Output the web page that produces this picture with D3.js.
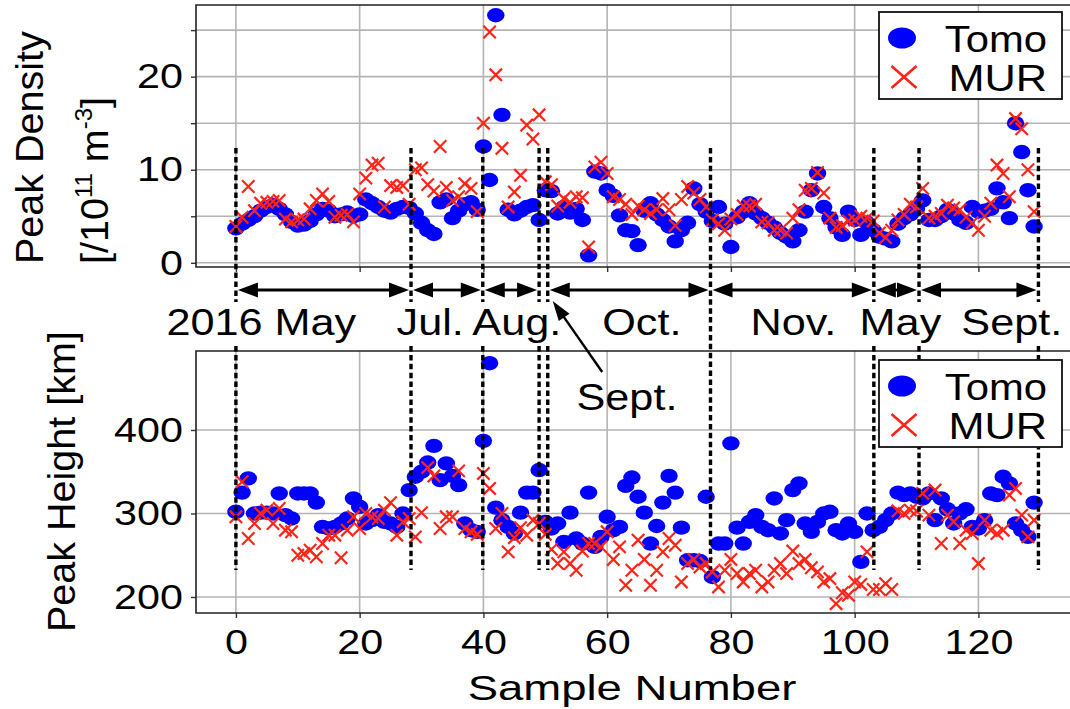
<!DOCTYPE html>
<html>
<head>
<meta charset="utf-8">
<script src="https://cdn.jsdelivr.net/npm/d3@7"></script>
<style>
  body { margin: 0; background: #fff; }
  text { font-family: "Liberation Sans", Arial, sans-serif; fill: #000; }
</style>
</head>
<body>
<script>
var width = 1070,
    height = 709;

// peak density [1e11 m^-3], one value per sample (0..129)
var tomoDensity = [
  3.7, 4.2, 4.6, 5.0, 5.6, 6.0, 6.2, 5.8, 5.2, 4.4,
  4.0, 4.1, 4.5, 5.2, 5.8, 5.6, 5.0, 5.2, 5.4, 5.0,
  5.2, 6.8, 6.4, 6.0, 5.6, 5.4, 5.8, 6.0, 5.9, 5.3,
  4.3, 3.5, 3.1, 6.5, 6.8, 4.8, 5.6, 6.3, 6.5, 5.7,
  12.5, 8.9, 26.6, 15.9, 5.7, 5.2, 5.6, 6.0, 6.2, 4.6,
  7.8, 7.7, 5.3, 6.0, 5.4, 5.8, 4.6, 0.8, 9.8, 9.6,
  7.8, 7.2, 5.1, 3.5, 3.4, 1.9, 5.6, 6.4, 5.2, 4.6,
  3.9, 2.3, 3.5, 4.3, 8.0, 6.3, 5.5, 4.5, 6.0, 4.2,
  1.7, 4.9, 5.5, 6.4, 5.3, 4.8, 4.3, 3.8, 3.2, 2.8,
  2.3, 3.5, 5.5, 7.8, 9.6, 6.0, 4.8, 3.8, 3.0, 5.5,
  4.6, 3.0, 4.3, 3.5, 2.8, 2.6, 2.3, 4.2, 4.8, 5.2,
  5.8, 6.7, 4.6, 4.6, 5.0, 5.7, 5.3, 4.6, 4.3, 6.0,
  5.5, 5.6, 5.8, 8.0, 6.5, 4.8, 15.0, 11.9, 7.8, 3.9
];
var murDensity = [
  3.9, 4.9, 8.2, 5.6, 6.4, 6.5, 6.6, 6.7, 4.7, 4.4,
  4.6, 4.7, 5.8, 6.7, 7.4, 6.6, 4.9, 5.1, 5.2, 4.4,
  7.4, 9.1, 10.5, 10.7, 6.0, 8.3, 8.1, 8.3, 6.3, 10.0,
  10.2, 8.4, 7.7, 12.5, 8.1, 6.7, 7.1, 8.5, 8.0, 5.5,
  15.0, 24.8, 20.2, 12.3, 6.0, 7.6, 9.4, 14.8, 13.3, 15.9,
  8.7, 8.4, 6.1, 6.9, 6.5, 7.1, 7.0, 1.7, 10.3, 10.8,
  9.6, 7.1, 6.8, 6.3, 5.2, 6.1, 5.7, 5.3, 5.7, 6.9,
  5.7, 4.0, 6.8, 8.2, 7.5, 6.8, 6.0, 4.6, 4.2, 3.5,
  4.7, 5.2, 6.1, 6.1, 6.3, 4.4, 4.3, 3.5, 3.5, 3.2,
  4.8, 5.7, 7.8, 8.0, 9.7, 7.5, 4.8, 3.8, 4.0, 4.5,
  4.6, 5.0, 4.8, 4.5, 3.2, 2.7, 3.5, 4.6, 5.2, 6.3,
  6.0, 8.0, 4.8, 5.0, 5.3, 6.2, 5.9, 5.7, 4.9, 4.3,
  3.5, 5.0, 6.4, 10.5, 9.6, 7.1, 15.5, 14.4, 10.0, 5.5
];

// peak height [km]
var tomoHeight = [
  302, 325, 342, 300, 301, 301, 300, 324, 298, 294,
  324, 324, 324, 313, 284, 282, 284, 288, 294, 318,
  308, 288, 292, 298, 290, 288, 284, 300, 328, 344,
  350, 361, 381, 340, 360, 345, 334, 288, 280, 278,
  387, 480, 307, 292, 284, 276, 301, 325, 325, 352,
  290, 282, 288, 266, 301, 270, 264, 325, 260, 272,
  296, 280, 284, 333, 343, 320, 301, 264, 285, 313,
  345, 325, 283, 244, 244, 243, 320, 224, 264, 264,
  384, 283, 264, 290, 298, 284, 280, 318, 276, 292,
  328, 336, 288, 278, 290, 300, 302, 280, 276, 288,
  278, 242, 300, 280, 284, 292, 300, 325, 322, 324,
  320, 318, 324, 292, 318, 305, 288, 300, 305, 284,
  282, 292, 324, 322, 344, 336, 288, 280, 272, 313
];
var murHeight = [
  296, 338, 270, 288, 300, 304, 288, 306, 280, 278,
  250, 252, 256, 248, 264, 274, 274, 247, 280, 296,
  282, 300, 296, 294, 304, 313, 274, 290, 294, 272,
  301, 355, 345, 282, 296, 296, 351, 282, 278, 275,
  348, 330, 282, 300, 254, 271, 283, 274, 292, 288,
  275, 257, 240, 254, 240, 232, 255, 264, 264, 260,
  278, 245, 260, 214, 232, 268, 245, 214, 232, 254,
  270, 262, 218, 240, 245, 236, 240, 230, 212, 232,
  245, 228, 218, 228, 232, 212, 218, 232, 240, 228,
  255, 240, 245, 235, 230, 218, 222, 192, 205, 202,
  218, 215, 254, 209, 209, 216, 209, 303, 300, 304,
  303, 324, 298, 328, 264, 298, 290, 264, 280, 276,
  240, 292, 280, 276, 280, 322, 330, 298, 272, 292
];

var xTicks = [0, 20, 40, 60, 80, 100, 120];
var densityTicks = [0, 5, 10, 15, 20, 25];
var heightTicks = [200, 300, 400];

// campaign boundaries (sample number) and the period names between them
var dividers = [0, 28.3, 39.9, 49, 50.4, 76.7, 103.1, 110.4, 129.7];
var periods = ["2016 May", "Jul.", "Aug.", "Oct.", "Nov.", "May", "Sept."];
var periodAt = [4.1, 31.4, 45.4, 65.6, 90.1, 107.4, 125.4];

var blue = "#0000ff",
    red = "#ff2418";

var x = d3.scaleLinear().domain([-6.45, 135.45]).range([196, 1074]);
var yTop = d3.scaleLinear().domain([-0.45, 27.7]).range([267, 5]);
var yBot = d3.scaleLinear().domain([180.8, 494.6]).range([613, 351]);

var svg = d3.select("body").append("svg")
    .attr("width", width)
    .attr("height", height);

// the source picture is stretched sideways, so widen horizontal text
function widen(sel, k) {
  sel.each(function () {
    var w = this.getComputedTextLength();
    if (w > 0) d3.select(this).attr("textLength", w * k).attr("lengthAdjust", "spacingAndGlyphs");
  });
}

var cross = function (h, v) {
  return "M" + (-h) + "," + (-v) + "L" + h + "," + v + "M" + (-h) + "," + v + "L" + h + "," + (-v);
};

function panel(y, yTicks, labelOf, tomo, mur, showX) {
  var g = svg.append("g");
  var y0 = y.range()[0], y1 = y.range()[1];

  // grid
  g.append("g").selectAll("line")
      .data(xTicks)
    .enter().append("line")
      .attr("x1", x).attr("x2", x)
      .attr("y1", y0).attr("y2", y1)
      .attr("stroke", "#b4b4b4").attr("stroke-width", 1.6);
  g.append("g").selectAll("line")
      .data(yTicks)
    .enter().append("line")
      .attr("x1", x.range()[0]).attr("x2", width)
      .attr("y1", y).attr("y2", y)
      .attr("stroke", "#b4b4b4").attr("stroke-width", 1.6);

  // axes
  var ya = g.append("g")
      .attr("transform", "translate(" + x.range()[0] + ",0)")
      .call(d3.axisLeft(y).tickValues(yTicks).tickSize(5).tickPadding(8).tickFormat(labelOf));
  var xa = g.append("g")
      .attr("transform", "translate(0," + y0 + ")")
      .call(d3.axisBottom(x).tickValues(xTicks).tickSize(5).tickPadding(11)
        .tickFormat(showX ? d3.format("d") : ""));
  [ya, xa].forEach(function (a) {
    a.select(".domain").remove();
    a.selectAll(".tick line").attr("stroke", "#333").attr("stroke-width", 1.4);
    a.selectAll("text").attr("font-size", 35).attr("font-family", null).call(widen, 1.18);
  });

  // frame (right edge falls outside the picture)
  g.append("path")
      .attr("d", "M" + width + "," + y1 + "H" + x.range()[0] + "V" + y0 + "H" + width)
      .attr("fill", "none").attr("stroke", "#222").attr("stroke-width", 1.6);

  // markers
  g.append("g").selectAll("ellipse")
      .data(samples)
    .enter().append("ellipse")
      .attr("cx", function (i) { return x(i); })
      .attr("cy", function (i) { return y(tomo[i]); })
      .attr("rx", 8.7).attr("ry", 7.2)
      .attr("fill", blue);
  g.append("g").selectAll("path")
      .data(samples)
    .enter().append("path")
      .attr("transform", function (i) { return "translate(" + x(i) + "," + y(mur[i]) + ")"; })
      .attr("d", cross(6.2, 6.2))
      .attr("fill", "none").attr("stroke", red).attr("stroke-width", 2.2);

  return g;
}

var samples = d3.range(tomoDensity.length);

panel(yTop, densityTicks, function (d) { return d % 10 === 0 ? d : ""; }, tomoDensity, murDensity, false);
panel(yBot, heightTicks, d3.format("d"), tomoHeight, murHeight, true);

// campaign dividers: dotted lines, arrows, names
var notes = svg.append("g");
var dot = function (sel) {
  sel.attr("stroke", "#000").attr("stroke-width", 3.4).attr("stroke-dasharray", "5.5,3.4");
};
notes.selectAll(".div-top")
    .data(dividers)
  .enter().append("line")
    .attr("x1", x).attr("x2", x)
    .attr("y1", 148)
    .attr("y2", function (d) { return d === 76.7 ? 570 : 302; })
    .call(dot);
notes.selectAll(".div-bot")
    .data(dividers.filter(function (d) { return d !== 76.7; }))
  .enter().append("line")
    .attr("x1", x).attr("x2", x)
    .attr("y1", 346).attr("y2", 570)
    .call(dot);

var spans = d3.pairs(dividers).filter(function (p) { return p[0] !== 49; });
var ay = 290, hl = 20, hw = 7.5;
spans.forEach(function (p) {
  var a = x(p[0]) + 2, b = x(p[1]) - 2;
  notes.append("line")
      .attr("x1", a + hl - 2).attr("x2", b - hl + 2)
      .attr("y1", ay).attr("y2", ay)
      .attr("stroke", "#000").attr("stroke-width", 2.8);
  notes.append("path")
      .attr("d", "M" + a + "," + ay + "L" + (a + hl) + "," + (ay - hw) + "L" + (a + hl) + "," + (ay + hw) + "Z" +
                 "M" + b + "," + ay + "L" + (b - hl) + "," + (ay - hw) + "L" + (b - hl) + "," + (ay + hw) + "Z")
      .attr("fill", "#000");
});

notes.selectAll(".period")
    .data(periods)
  .enter().append("text")
    .attr("x", function (d, i) { return x(periodAt[i]); })
    .attr("y", 335)
    .attr("text-anchor", "middle")
    .attr("font-size", 36)
    .text(function (d) { return d; })
    .call(widen, 1.2);

// "Sept." pointer for the short campaign between the two close dividers
var tip = [x(51.2), 301], tail = [x(59.2), 372];
var ang = Math.atan2(tail[1] - tip[1], tail[0] - tip[0]);
var ux = Math.cos(ang), uy = Math.sin(ang);
notes.append("line")
    .attr("x1", tip[0] + ux * 16).attr("y1", tip[1] + uy * 16)
    .attr("x2", tail[0]).attr("y2", tail[1])
    .attr("stroke", "#000").attr("stroke-width", 2.4);
notes.append("path")
    .attr("d", "M" + tip[0] + "," + tip[1] +
               "L" + (tip[0] + ux * 20 - uy * 6.5) + "," + (tip[1] + uy * 20 + ux * 6.5) +
               "L" + (tip[0] + ux * 20 + uy * 6.5) + "," + (tip[1] + uy * 20 - ux * 6.5) + "Z")
    .attr("fill", "#000");
notes.append("text")
    .attr("x", x(63.2)).attr("y", 410)
    .attr("text-anchor", "middle")
    .attr("font-size", 36)
    .text("Sept.")
    .call(widen, 1.2);

// legends (drawn over the dotted lines)
function legend(top) {
  var g = svg.append("g").attr("transform", "translate(879," + top + ")");
  g.append("rect")
      .attr("width", 183).attr("height", 87)
      .attr("fill", "#fff").attr("stroke", "#111").attr("stroke-width", 1.8);
  g.append("ellipse")
      .attr("cx", 23).attr("cy", 26).attr("rx", 14).attr("ry", 10.5)
      .attr("fill", blue);
  g.append("path")
      .attr("transform", "translate(25,65)")
      .attr("d", cross(12.5, 11))
      .attr("fill", "none").attr("stroke", red).attr("stroke-width", 2.6);
  g.append("text").attr("x", 168).attr("y", 40)
      .attr("text-anchor", "end").attr("font-size", 37)
      .text("Tomo").call(widen, 1.13);
  g.append("text").attr("x", 168).attr("y", 79)
      .attr("text-anchor", "end").attr("font-size", 37)
      .text("MUR").call(widen, 1.17);
}
legend(12);
legend(360);

// axis titles
svg.append("text")
    .attr("transform", "translate(632,700)")
    .attr("text-anchor", "middle")
    .attr("font-size", 35)
    .text("Sample Number")
    .call(widen, 1.3);

svg.append("text")
    .attr("transform", "translate(43,264)rotate(-90)")
    .attr("font-size", 39.5)
    .text("Peak Density");

var unit = svg.append("text")
    .attr("transform", "translate(108,264)rotate(-90)")
    .attr("font-size", 39.5);
unit.append("tspan").text("[/10");
unit.append("tspan").attr("font-size", 24).attr("dy", -16).text("11");
unit.append("tspan").attr("dy", 16).text(" m");
unit.append("tspan").attr("font-size", 24).attr("dy", -16).text("-3");
unit.append("tspan").attr("dy", 16).text("]");

svg.append("text")
    .attr("transform", "translate(75,632)rotate(-90)")
    .attr("font-size", 39.5)
    .text("Peak Height [km]");
</script>
</body>
</html>
